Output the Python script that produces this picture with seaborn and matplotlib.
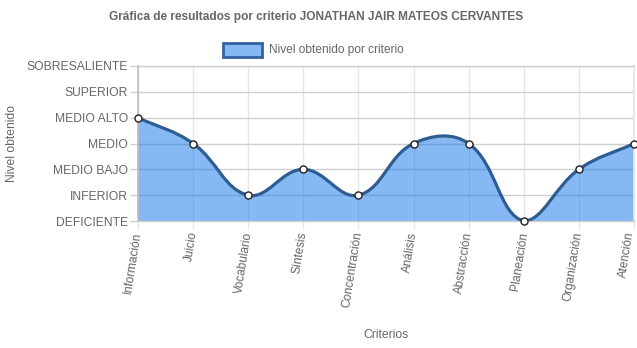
import numpy as np
import matplotlib
matplotlib.use("Agg")
import matplotlib.pyplot as plt
import matplotlib.transforms as mtransforms
from matplotlib.path import Path
from matplotlib.patches import PathPatch, Rectangle
import seaborn as sns
import pandas as pd

criterios = ["Información", "Juicio", "Vocabulario", "Síntesis", "Concentración",
             "Análisis", "Abstracción", "Planeación", "Organización", "Atención"]
niveles = [4, 3, 1, 2, 1, 3, 3, 0, 2, 3]
etiquetas_nivel = ["DEFICIENTE", "INFERIOR", "MEDIO BAJO", "MEDIO",
                   "MEDIO ALTO", "SUPERIOR", "SOBRESALIENTE"]
titulo = "Gráfica de resultados por criterio JONATHAN JAIR MATEOS CERVANTES"
serie = "Nivel obtenido por criterio"

sns.set_theme(style="white")
plt.rcParams["font.family"] = ["Liberation Sans", "DejaVu Sans"]

TXT = "#666666"
FILL = (0.06, 0.45, 0.92, 0.5)
LINE = "#2d5d91"
GRID_H = "#cfcfcf"
GRID_V = "#e6e6e6"

W, H = 637, 348
fig = plt.figure(figsize=(W / 100, H / 100), dpi=100)
L, R, T, B = 138, 634, 66, 221
ax = fig.add_axes([L / W, 1 - B / H, (R - L) / W, (B - T) / H])

df = pd.DataFrame({"x": np.arange(len(criterios)), "nivel": niveles, "criterio": criterios})
n = len(df)
ax.set_xlim(0, n - 1)
ax.set_ylim(0, len(etiquetas_nivel) - 1)

# Bezier control points with tension, computed in display space and capped to the plot area
pts = ax.transData.transform(df[["x", "nivel"]].to_numpy(dtype=float))
tension = 0.4
cp_prev = np.zeros_like(pts)
cp_next = np.zeros_like(pts)
for i in range(n):
    cur = pts[i]
    prev = pts[i - 1] if i > 0 else cur
    nxt = pts[i + 1] if i < n - 1 else cur
    d01 = np.hypot(*(cur - prev))
    d12 = np.hypot(*(nxt - cur))
    s = d01 + d12
    s01 = d01 / s if s else 0.0
    s12 = d12 / s if s else 0.0
    cp_prev[i] = cur - tension * s01 * (nxt - prev)
    cp_next[i] = cur + tension * s12 * (nxt - prev)
bb = ax.bbox
for cp in (cp_prev, cp_next):
    cp[:, 0] = np.clip(cp[:, 0], bb.x0, bb.x1)
    cp[:, 1] = np.clip(cp[:, 1], bb.y0, bb.y1)

inv = ax.transData.inverted()
pts_d = inv.transform(pts)
cpp_d = inv.transform(cp_prev)
cpn_d = inv.transform(cp_next)

verts = [tuple(pts_d[0])]
codes = [Path.MOVETO]
for i in range(n - 1):
    verts += [tuple(cpn_d[i]), tuple(cpp_d[i + 1]), tuple(pts_d[i + 1])]
    codes += [Path.CURVE4] * 3

fill_verts = verts + [(pts_d[-1][0], 0), (pts_d[0][0], 0), (pts_d[0][0], pts_d[0][1])]
fill_codes = codes + [Path.LINETO, Path.LINETO, Path.CLOSEPOLY]
ax.add_patch(PathPatch(Path(fill_verts, fill_codes), facecolor=FILL, edgecolor="none", zorder=1))
ax.add_patch(PathPatch(Path(verts, codes), facecolor="none", edgecolor=LINE, lw=2.3,
                       capstyle="round", joinstyle="round", zorder=3))

sns.scatterplot(data=df, x="x", y="nivel", ax=ax, s=26, color="white",
                edgecolor="#222222", linewidth=1.0, zorder=4, clip_on=False, legend=False)

# Axes, grid and ticks
ax.set_xticks(df["x"])
ax.set_xticklabels(criterios, rotation=81, ha="right", va="center",
                   rotation_mode="anchor", fontsize=8.6, color=TXT)
ax.set_yticks(range(len(etiquetas_nivel)))
ax.set_yticklabels(etiquetas_nivel, fontsize=8.7, color=TXT)
ax.xaxis.grid(True, color=GRID_V, lw=1, zorder=0)
ax.yaxis.grid(True, color=GRID_H, lw=1, zorder=0)
ax.set_axisbelow(True)
ax.tick_params(axis="y", length=5.8, width=1, color=GRID_H, pad=1.3, left=True)
ax.tick_params(axis="x", length=5.8, width=1, color=GRID_V, pad=2, bottom=True)
for side in ("top", "bottom"):
    ax.spines[side].set_color(GRID_H)
    ax.spines[side].set_linewidth(1)
ax.spines["left"].set_color("#c0c0c0")
ax.spines["right"].set_color(GRID_V)
ax.set_xlabel("")
ax.set_ylabel("")

# keep the last category label inside the canvas
last = ax.get_xticklabels()[-1]
last.set_transform(last.get_transform() +
                   mtransforms.ScaledTranslation(-4 / 100, 0, fig.dpi_scale_trans))

fig.text(12 / W, 1 - 143 / H, "Nivel obtenido", rotation=90, ha="center", va="center",
         fontsize=8.7, color=TXT)
fig.text(386 / W, 1 - 335 / H, "Criterios", ha="center", va="center", fontsize=8.7, color=TXT)
fig.text(316 / W, 1 - 17 / H, titulo, ha="center", va="center", fontsize=8.6,
         fontweight="bold", color=TXT)

# Legend entry
fig.patches.append(Rectangle((223 / W, 1 - 57 / H), 39 / W, 14 / H, transform=fig.transFigure,
                             facecolor=FILL, edgecolor="#3263a0", lw=2, figure=fig))
fig.text(269 / W, 1 - 49.5 / H, serie, ha="left", va="center", fontsize=8.6, color=TXT)

fig.savefig("out.png", dpi=100, facecolor="white")
